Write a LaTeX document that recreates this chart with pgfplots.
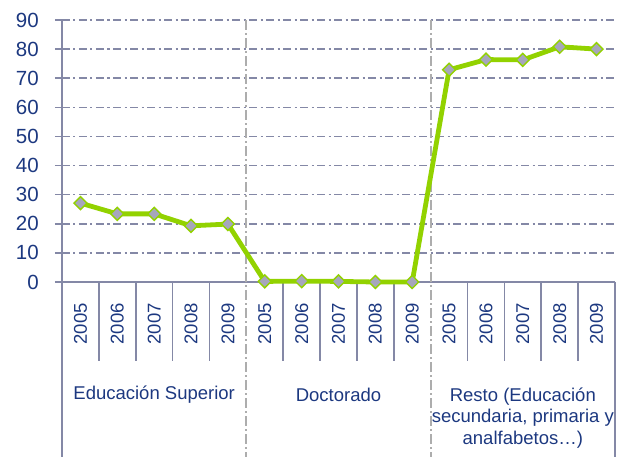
\documentclass[border=0pt]{standalone}
\usepackage{pgfplots}
\pgfplotsset{compat=1.18}
\usepackage{fontspec}
\setmainfont{Liberation Sans}
\definecolor{axc}{RGB}{132,136,166}
\definecolor{sepc}{RGB}{173,173,173}
\definecolor{txt}{RGB}{28,56,128}
\definecolor{lgreen}{RGB}{146,210,0}
\definecolor{mfill}{RGB}{166,166,188}
\begin{document}
\begin{tikzpicture}
\begin{axis}[
  scale only axis, width=553pt, height=262pt,
  xmin=0, xmax=15, ymin=0, ymax=90,
  axis x line=bottom, axis y line=left,
  axis line style={-, draw=axc, line width=2pt},
  ytick={0,10,20,30,40,50,60,70,80,90},
  ymajorgrids,
  major grid style={draw=axc, line width=1.6pt, dash pattern=on 8pt off 3.5pt on 2pt off 3.5pt},
  ytick style={draw=axc, line width=1.6pt},
  tick align=outside, major tick length=7pt,
  xtick={0.5,1.5,2.5,3.5,4.5,5.5,6.5,7.5,8.5,9.5,10.5,11.5,12.5,13.5,14.5},
  xticklabels={2005,2006,2007,2008,2009,2005,2006,2007,2008,2009,2005,2006,2007,2008,2009},
  xtick style={draw=none},
  xticklabel style={rotate=90, anchor=east, inner sep=0pt, font=\fontsize{18.5}{22}\selectfont, text=txt},
  yticklabel style={anchor=east, inner sep=0pt, font=\fontsize{20.5}{24}\selectfont, text=txt},
  xticklabel shift=14pt,
  yticklabel shift=16pt,
  /pgf/number format/assume math mode=true,
  clip=false,
]
\coordinate (O) at (axis cs:0,0);
\pgfplotsinvokeforeach{1,2,3,4,6,7,8,9,11,12,13,14}{
  \draw[axc, line width=1.6pt] (axis cs:#1,0) -- ++(0,-79pt);
}
\draw[axc, line width=2pt] (axis cs:0,0) -- ++(0,-176pt);
\draw[axc, line width=2pt] (axis cs:15,0) -- ++(0,-176pt);
\pgfplotsinvokeforeach{5,10}{
  \draw[sepc, line width=2pt, dash pattern=on 10pt off 3pt on 2pt off 3pt] (axis cs:#1,90) -- (axis cs:#1,0) -- ++(0,-176pt);
}
\addplot[lgreen, line width=4.8pt, mark=square*, mark size=4.6pt,
  mark options={fill=mfill, draw=lgreen, line width=1.4pt, rotate=45}]
  coordinates {
  (0.5,27.1) (1.5,23.4) (2.5,23.4) (3.5,19.3) (4.5,19.9)
  (5.5,0.2) (6.5,0.3) (7.5,0.2) (8.5,0.0) (9.5,0.0)
  (10.5,72.9) (11.5,76.4) (12.5,76.3) (13.5,80.8) (14.5,80.0)
  };
\node[text=txt, font=\fontsize{18.5}{21.5}\selectfont] at (axis cs:2.5,0) [yshift=-113pt] {Educación Superior};
\node[text=txt, font=\fontsize{18.5}{21.5}\selectfont] at (axis cs:7.5,0) [yshift=-113pt] {Doctorado};
\node[text=txt, font=\fontsize{18.5}{21.5}\selectfont, align=center] at (axis cs:12.5,0) [yshift=-136pt] {Resto (Educación\\secundaria, primaria y\\analfabetos…)};
\end{axis}
\pgfresetboundingbox
\path[use as bounding box] (O) ++(-62pt,-175pt) rectangle ++(624pt,457pt);
\end{tikzpicture}
\end{document}
